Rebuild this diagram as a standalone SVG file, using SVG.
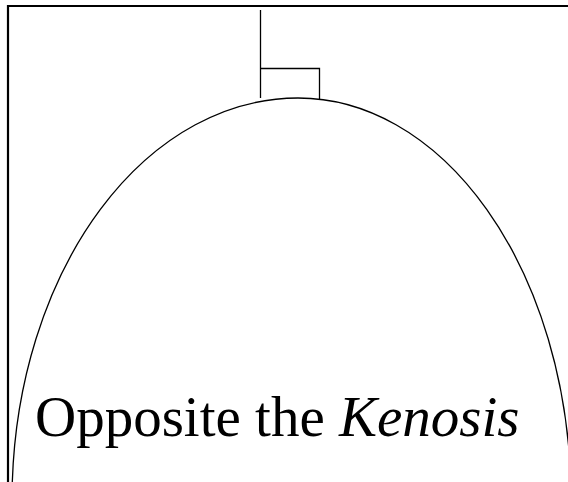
<svg xmlns="http://www.w3.org/2000/svg" width="568" height="482" viewBox="0 0 568 482">
<style>
.ln{fill:none;stroke:#000;stroke-width:1.3}
.fr{fill:none;stroke:#000;stroke-width:2.2}
.t{font-family:"Liberation Serif","Times New Roman",serif;font-size:57px;fill:#000}
</style>
<rect width="568" height="482" fill="#fff"/>
<g id="frame">
<path class="fr" d="M8 482 V6 H568"/>
</g>
<g id="connectors">
<path class="ln" d="M260.5 10 V98"/>
<path class="ln" d="M260.5 68.5 H319.5 V99"/>
</g>
<g id="arch">
<path class="ln" d="M12.3 482 A286 402 0 0 1 298 98 A273 402 0 0 1 570.8 482"/>
</g>
<g id="label">
<text class="t" x="35" y="436">Opposite the <tspan font-style="italic">Kenosis</tspan></text>
</g>
</svg>
